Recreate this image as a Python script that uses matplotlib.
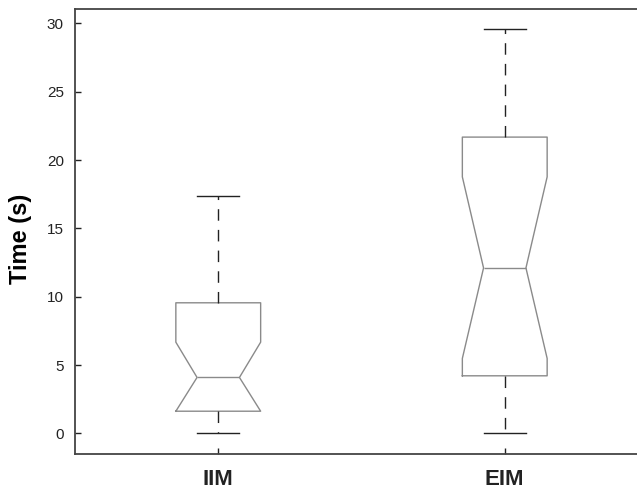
import matplotlib
matplotlib.use('Agg')
import matplotlib.pyplot as plt

# Box statistics (seconds)
groups = ['IIM', 'EIM']
whisker_low = [0.0, 0.0]
q1 = [1.63, 4.22]
median = [4.10, 12.11]
q3 = [9.56, 21.68]
whisker_high = [17.36, 29.58]
notch_low = [1.63, 5.49]
notch_high = [6.68, 18.77]

plt.rcParams['font.family'] = ['Liberation Sans', 'DejaVu Sans']
plt.rcParams['lines.scale_dashes'] = False

stats = []
for i, name in enumerate(groups):
    stats.append(dict(
        label=name, whislo=whisker_low[i], q1=q1[i], med=median[i],
        q3=q3[i], whishi=whisker_high[i],
        cilo=notch_low[i], cihi=notch_high[i], fliers=[],
    ))

fig = plt.figure(figsize=(6.37, 4.91), dpi=100)
# axes runs past the right edge of the figure, like the cropped original
ax = fig.add_axes([75 / 637, 37 / 491, 573 / 637, 445 / 491])

box_grey = '#8a8a8a'
ax.bxp(
    stats, positions=[1, 2], widths=0.296, shownotches=True, showfliers=False,
    boxprops=dict(color=box_grey, linewidth=1.0),
    medianprops=dict(color=box_grey, linewidth=1.0),
    whiskerprops=dict(color='#222222', linewidth=1.0, linestyle=(0, (8.3, 6.6))),
    capprops=dict(color='#222222', linewidth=1.0),
)

ax.set_xlim(0.5, 2.5)
ax.set_ylim(-1.5, 31.05)
ax.set_yticks([0, 5, 10, 15, 20, 25, 30])
ax.set_xticks([1, 2])
ax.set_xticklabels(groups, fontsize=16, fontweight='bold')
ax.tick_params(axis='y', direction='in', length=4, width=1, labelsize=11,
               pad=8, colors='#222222', right=False)
ax.tick_params(axis='x', direction='in', length=4, width=1, pad=11,
               colors='#222222', top=False)

for side in ['left', 'bottom', 'top', 'right']:
    ax.spines[side].set_color('#444444')
    ax.spines[side].set_linewidth(1.3)

ax.set_ylabel('Time (s)', fontsize=17, fontweight='bold')
ax.yaxis.set_label_coords(-0.075, 0.483)

fig.savefig('out.png', dpi=100)
